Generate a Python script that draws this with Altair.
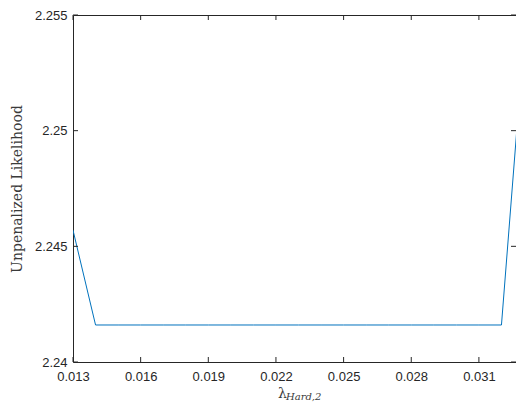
import altair as alt
import pandas as pd

# data
lam = [0.013, 0.014, 0.015, 0.016, 0.017, 0.018, 0.019, 0.020, 0.021, 0.022,
       0.023, 0.024, 0.025, 0.026, 0.027, 0.028, 0.029, 0.030, 0.031, 0.032, 0.033]
lik = [2.2457, 2.2416, 2.2416, 2.2416, 2.2416, 2.2416, 2.2416, 2.2416, 2.2416, 2.2416,
       2.2416, 2.2416, 2.2416, 2.2416, 2.2416, 2.2416, 2.2416, 2.2416, 2.2416, 2.2416, 2.2540]
x_ticks = [0.013, 0.016, 0.019, 0.022, 0.025, 0.028, 0.031]
y_ticks = [2.24, 2.245, 2.25, 2.255]

W, H = 443, 347
AX = "#262626"
TL = 5

df = pd.DataFrame({"lam": lam, "lik": lik})
xt = pd.DataFrame({"lam": x_ticks})
yt = pd.DataFrame({"lik": y_ticks})

# visible part of the x range (the reference's right edge sits at the window edge)
xs = alt.Scale(domain=[0.013, 0.032645], nice=False, zero=False)
ys = alt.Scale(domain=[2.24, 2.255], nice=False, zero=False)

x_axis = alt.Axis(
    values=x_ticks, format=".3f", title=None, tickSize=0, domain=False,
    grid=False, labelFont="Liberation Sans", labelFontSize=13, labelFlush=False,
    labelColor=AX, labelPadding=8)
y_axis = alt.Axis(
    values=y_ticks, format="~g", title="Unpenalized Likelihood", tickSize=0,
    domain=False, grid=False, labelFont="Liberation Sans", labelFontSize=13,
    labelFlush=False, labelColor=AX, labelPadding=6, titleFont="DejaVu Serif",
    titleFontSize=14, titleFontWeight="normal", titleColor="#3a3a3a",
    titlePadding=10)

line = alt.Chart(df).mark_line(color="#0072BD", strokeWidth=1, clip=True).encode(
    x=alt.X("lam:Q", scale=xs, axis=x_axis),
    y=alt.Y("lik:Q", scale=ys, axis=y_axis),
)

xb = alt.Chart(xt).mark_rule(color=AX, strokeWidth=1).encode(
    x=alt.X("lam:Q", scale=xs, axis=x_axis), y=alt.value(H), y2=alt.value(H - TL))
xtop = alt.Chart(xt).mark_rule(color=AX, strokeWidth=1).encode(
    x=alt.X("lam:Q", scale=xs, axis=x_axis), y=alt.value(0), y2=alt.value(TL))
yl = alt.Chart(yt).mark_rule(color=AX, strokeWidth=1).encode(
    y=alt.Y("lik:Q", scale=ys, axis=y_axis), x=alt.value(0), x2=alt.value(TL))
yr = alt.Chart(yt).mark_rule(color=AX, strokeWidth=1).encode(
    y=alt.Y("lik:Q", scale=ys, axis=y_axis), x=alt.value(W), x2=alt.value(W - TL))

one = alt.Data(values=[{"a": 1}])
lam_txt = alt.Chart(one).mark_text(
    font="DejaVu Serif", fontSize=14, color="#3a3a3a", align="left", baseline="alphabetic"
).encode(x=alt.value(205), y=alt.value(383), text=alt.value("λ"))
sub_txt = alt.Chart(one).mark_text(
    font="DejaVu Serif", fontSize=10, fontStyle="italic", color="#3a3a3a",
    align="left", baseline="alphabetic"
).encode(x=alt.value(213), y=alt.value(385), text=alt.value("Hard,2"))

chart = alt.layer(line, xb, xtop, yl, yr, lam_txt, sub_txt).properties(
    width=W, height=H,
    background="white",
    autosize=alt.AutoSizeParams(type="none"),
    padding={"left": 65, "top": 7, "right": 0, "bottom": 48},
).configure_view(stroke=AX, strokeWidth=1)

chart.save("out.html", embed_options={"renderer": "svg", "actions": False})
